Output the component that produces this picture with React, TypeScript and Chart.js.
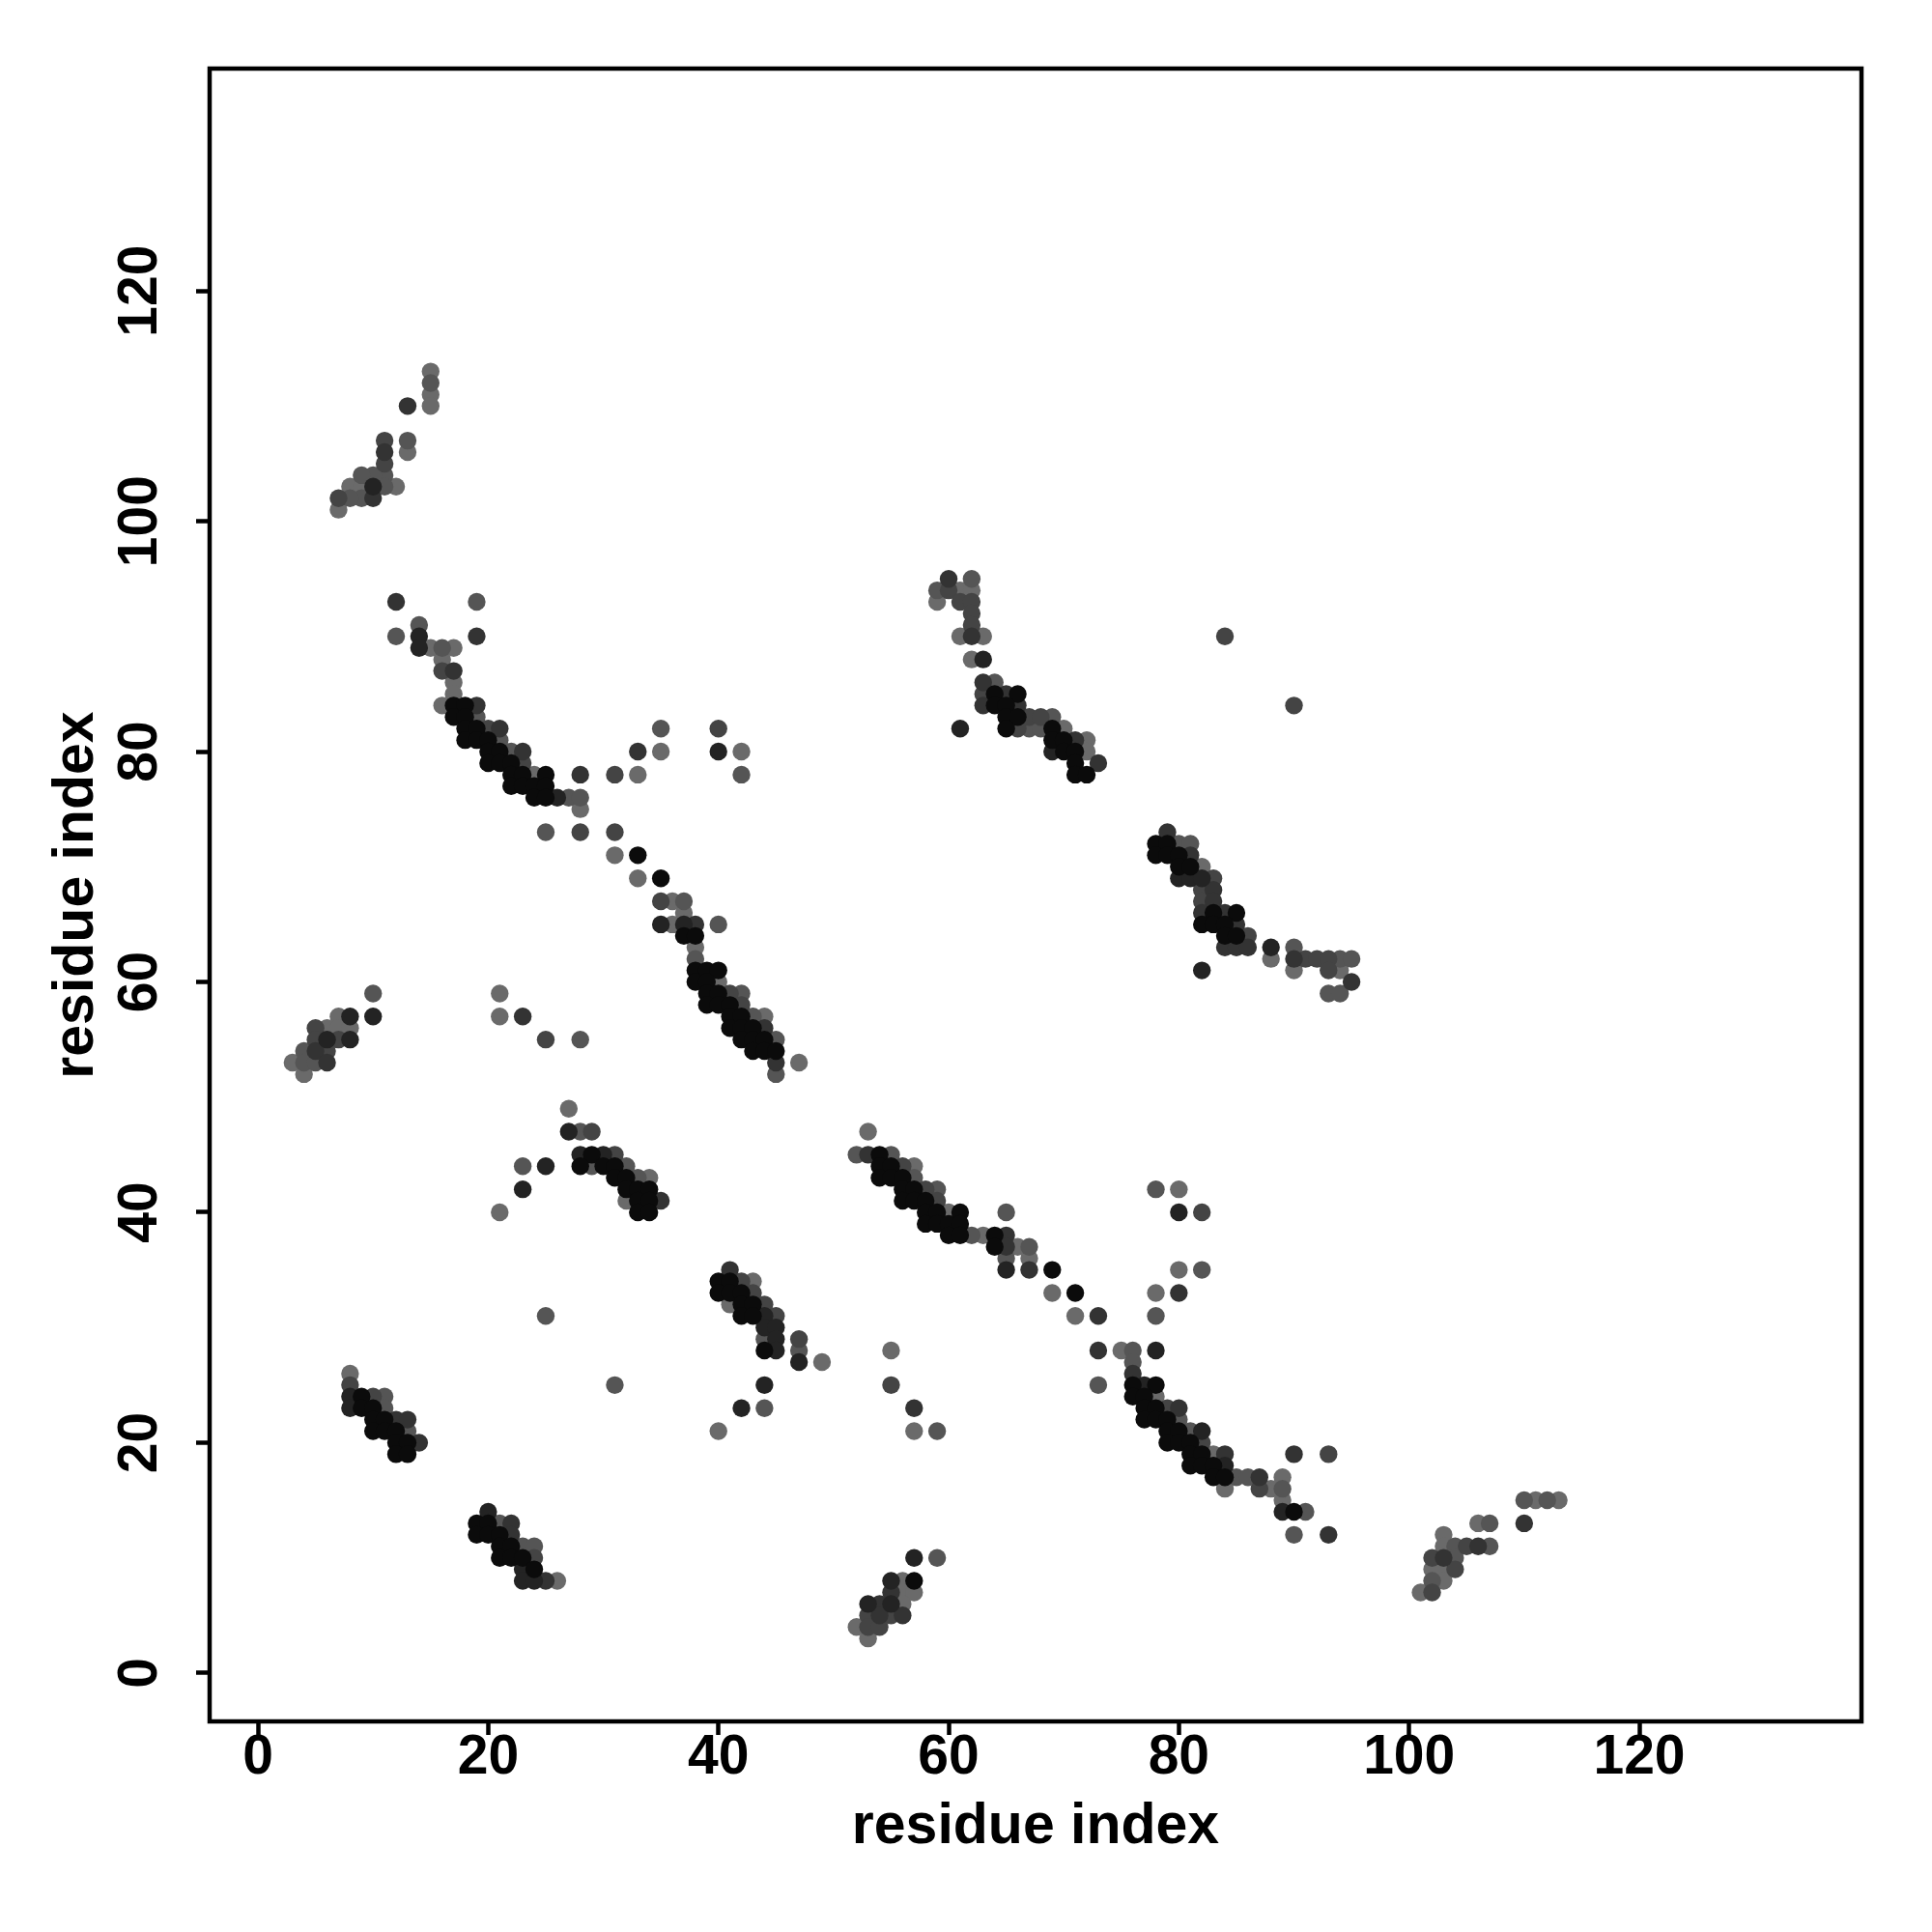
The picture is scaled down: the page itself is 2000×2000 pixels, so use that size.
import React, { useEffect, useRef } from 'react';
import { Chart, registerables } from 'chart.js';

Chart.register(...registerables);

const tickValues = [0, 20, 40, 60, 80, 100, 120];
const axisTitle = 'residue index';
const axisMin = -4.2;
const axisMax = 139.3;

// grey level of each contact group: darkest (0) to lightest (5)
const shadeColors = ['#0b0b0b', '#232323', '#333333', '#444444', '#555555', '#6a6a6a'];

type P = [number, number];

const shade0: P[] = [
  [17,84],[18,84],[17,83],[18,83],[18,82],[19,82],[18,81],[19,81],[20,81],[20,80],[21,80],[20,79],[21,79],[22,79],[22,78],[23,78],[25,78],[22,77],[23,77],[24,77],[25,77],[24,76],[25,76],[33,71],[35,69],[37,64],[38,64],[38,61],[39,61],[40,61],[38,60],[39,60],[39,59],[40,59],[39,58],[40,58],[41,58],[41,57],[42,57],[41,56],[42,56],[43,56],[42,55],[43,55],[44,55],[43,54],[44,54],[45,54],
  [64,85],[66,85],[64,84],[65,84],[65,83],[66,83],[65,82],[69,82],[69,81],[70,81],[70,80],[71,80],[71,79],[71,78],[72,78],
  [78,72],[79,72],[78,71],[79,71],[80,71],[80,70],[81,70],[83,66],[85,66],[82,65],[83,65],[84,65],[84,64],[85,64],
  [29,45],[28,44],[30,44],[31,44],[31,43],[32,43],[32,42],[33,42],[34,42],[33,41],[34,41],[33,40],[34,40],
  [54,45],[54,44],[55,44],[54,43],[55,43],[56,43],[56,42],[57,42],[56,41],[57,41],[58,41],[58,40],[59,40],[61,40],[58,39],[59,39],[60,39],[61,39],[60,38],[61,38],[64,38],[64,37],[69,35],[71,33],
  [40,34],[41,34],[40,33],[41,33],[42,33],[42,32],[43,32],[42,31],[43,31],[44,28],
  [76,25],[78,25],[76,24],[77,24],[77,23],[78,23],[77,22],[78,22],[79,22],[79,21],[80,21],[79,20],[80,20],[81,20],[81,19],[82,19],[81,18],[82,18],[83,18],[83,17],[84,17],[90,14],
  [9,24],[9,23],[10,23],[10,22],[11,22],[10,21],[11,21],[12,21],[12,20],[13,20],[12,19],[13,19],
  [19,13],[20,13],[19,12],[20,12],[21,12],[21,11],[22,11],[21,10],[22,10],[23,10],[24,9],
  [57,8],
];

const shade1: P[] = [
  [10,103],
  [14,90],[14,89],[26,76],[40,80],[35,65],[37,65],
  [63,88],[61,82],[69,80],
  [80,69],[81,69],[82,69],[88,63],[82,61],
  [10,57],[8,57],[6,55],[8,55],
  [27,47],[28,45],[30,45],[25,44],[23,42],
  [65,35],[80,40],[78,28],
  [44,31],[44,30],[45,30],[45,29],[45,28],[47,27],[44,25],[42,23],
  [77,25],[82,21],[84,18],[89,14],
  [8,24],[8,23],
  [20,14],[23,9],[23,8],[24,8],
  [57,10],[55,8],[53,6],[55,6],
];

const shade2: P[] = [
  [13,110],[11,106],[10,102],
  [12,93],[19,90],[17,87],[19,84],[21,82],[23,80],[28,78],[33,80],[38,65],[44,56],[45,53],
  [60,95],[62,90],[63,86],[65,85],[63,84],[66,84],[71,81],[73,79],
  [79,73],[81,71],[83,68],[83,67],[82,66],[84,66],[85,65],[84,63],[85,63],[86,63],[90,62],[95,60],
  [5,54],[6,53],[23,57],
  [35,41],
  [53,45],[65,38],[65,37],[67,35],[73,31],[80,33],[73,28],[57,23],
  [41,35],
  [76,26],[80,23],[84,19],[87,17],[90,19],[93,12],
  [12,22],[13,22],[14,20],
  [22,13],[22,12],[25,8],
  [55,7],[54,6],[54,5],[56,5],
  [110,13],[106,11],[103,10],
];

const shade3: P[] = [
  [11,107],[11,105],[7,102],
  [16,87],[20,82],[23,79],[28,73],[31,78],[40,82],[31,73],[35,67],[41,59],[42,58],
  [60,94],[61,93],[62,93],[62,92],[62,91],[63,85],[67,83],[68,83],[66,82],
  [84,90],[90,84],[83,69],[82,68],[82,67],[86,64],[91,62],[92,62],[93,62],[93,61],
  [5,56],[5,55],[7,55],[6,54],[25,55],
  [29,47],[31,45],
  [56,44],[58,42],[59,41],[82,40],[55,25],
  [42,34],[43,33],[44,32],[45,31],[47,29],
  [79,23],[82,20],[87,16],[93,19],
  [8,25],[10,24],
  [24,10],
  [53,5],[55,5],[53,4],[54,4],
  [105,11],[102,10],[104,9],[102,7],
];

const shade4: P[] = [
  [15,112],[13,107],[11,104],[10,104],[9,104],[11,103],[9,102],[8,102],
  [19,93],[12,90],[14,91],[16,89],[19,83],[21,81],[22,80],[27,76],[28,76],[25,73],[35,82],[42,78],[37,67],[40,65],[38,62],[42,59],[43,57],[45,55],[45,52],[28,55],
  [62,95],[59,94],[64,86],[69,83],[67,82],[68,82],
  [80,72],[81,72],[90,63],[94,62],[95,62],[93,59],[94,59],
  [10,59],[4,54],[4,53],[5,53],
  [28,47],[29,44],[32,44],[33,43],[23,44],
  [52,45],[55,45],[57,43],[59,42],[62,38],[67,37],[65,40],[65,36],[78,42],[82,35],[78,31],[76,28],[76,27],[73,25],[59,21],
  [44,29],[47,28],[44,23],[31,25],[25,31],
  [80,22],[81,21],[85,17],[86,17],[89,16],[91,14],[90,12],
  [11,24],[11,23],[13,21],
  [21,13],[23,11],[24,11],
  [59,10],
  [110,15],[112,15],[107,13],[104,11],[107,11],[104,10],[102,8],
];

const shade5: P[] = [
  [15,113],[15,111],[15,110],[13,106],[12,103],[8,103],[7,101],[9,103],
  [15,89],[17,89],[16,88],[17,86],[17,85],[16,84],[24,78],[28,75],[33,78],[35,80],[42,80],[31,71],[33,69],[36,67],[37,66],[36,65],[38,63],[40,60],[44,57],[47,53],
  [61,94],[62,94],[59,93],[61,90],[63,90],[62,88],[70,82],[72,81],[72,80],
  [82,70],[88,62],[90,61],[94,61],
  [7,57],[6,56],[7,56],[8,56],[3,53],[4,52],[21,59],[21,57],
  [27,49],[34,43],[32,41],[21,40],
  [53,47],[57,44],[60,40],[63,38],[66,37],[67,36],[69,33],[71,31],[80,42],[80,35],[78,33],[55,28],[75,28],[57,21],
  [43,34],[41,32],[49,27],[40,21],
  [78,24],[83,19],[89,17],[84,16],[88,16],[89,15],
  [8,26],
  [26,8],
  [56,8],[56,7],[57,7],[56,6],[52,4],[53,3],
  [111,15],[113,15],[106,13],[103,12],[103,11],[102,9],[103,9],[103,8],[101,7],
];

const shadeGroups: P[][] = [shade0, shade1, shade2, shade3, shade4, shade5];

const FONT = "'Liberation Sans', Arial, Helvetica, sans-serif";

const boxPlugin = {
  id: 'plotBox',
  afterDatasetsDraw(chart: any) {
    const { ctx, chartArea: a } = chart;
    ctx.save();
    ctx.lineWidth = 4.5;
    ctx.strokeStyle = '#000';
    ctx.strokeRect(a.left, a.top, a.right - a.left, a.bottom - a.top);
    ctx.restore();
  },
};

export default function App() {
  const ref = useRef<HTMLCanvasElement | null>(null);

  useEffect(() => {
    if (!ref.current) return;
    const datasets = shadeGroups.map((pts, i) => ({
      label: 'shade' + i,
      data: pts.map(([x, y]) => ({ x, y })),
      backgroundColor: shadeColors[i],
      borderColor: shadeColors[i],
      borderWidth: 0,
      pointRadius: 9.2,
      pointHoverRadius: 9.2,
    }));
    const gridOpts = {
      display: true,
      drawOnChartArea: false,
      drawTicks: true,
      tickLength: 14,
      tickWidth: 4.5,
      tickColor: '#000',
    };
    const chart = new Chart(ref.current, {
      type: 'scatter',
      data: { datasets },
      plugins: [boxPlugin],
      options: {
        animation: false,
        responsive: false,
        events: [],
        layout: { padding: { left: 0, top: 71, right: 73, bottom: 0 } },
        plugins: { legend: { display: false }, tooltip: { enabled: false } },
        scales: {
          x: {
            type: 'linear',
            min: axisMin,
            max: axisMax,
            afterBuildTicks: (s: any) => {
              s.ticks = tickValues.map((v) => ({ value: v }));
            },
            afterFit: (s: any) => {
              s.height = 218;
            },
            grid: gridOpts,
            border: { display: false },
            ticks: {
              color: '#000',
              font: { family: FONT, size: 57, weight: 'bold' },
              padding: -10,
              autoSkip: false,
              maxRotation: 0,
              minRotation: 0,
            },
            title: {
              display: true,
              text: axisTitle,
              color: '#000',
              font: { family: FONT, size: 59, weight: 'bold' },
              padding: { top: 0, bottom: 73 },
            },
          },
          y: {
            type: 'linear',
            min: axisMin,
            max: axisMax,
            afterBuildTicks: (s: any) => {
              s.ticks = tickValues.map((v) => ({ value: v }));
            },
            afterFit: (s: any) => {
              s.width = 217;
            },
            grid: gridOpts,
            border: { display: false },
            ticks: {
              color: '#000',
              font: { family: FONT, size: 57, weight: 'bold' },
              padding: 9,
              autoSkip: false,
              minRotation: 90,
              maxRotation: 90,
              crossAlign: 'center',
            },
            title: {
              display: true,
              text: axisTitle,
              color: '#000',
              font: { family: FONT, size: 59, weight: 'bold' },
              padding: { top: 44, bottom: 0 },
            },
          },
        },
      } as any,
    });
    return () => chart.destroy();
  }, []);

  return (
    <div style={{ position: 'absolute', left: 0, top: 0, width: 2000, height: 2000, background: '#fff' }}>
      <canvas ref={ref} width={2000} height={2000} style={{ display: 'block' }} />
    </div>
  );
}
